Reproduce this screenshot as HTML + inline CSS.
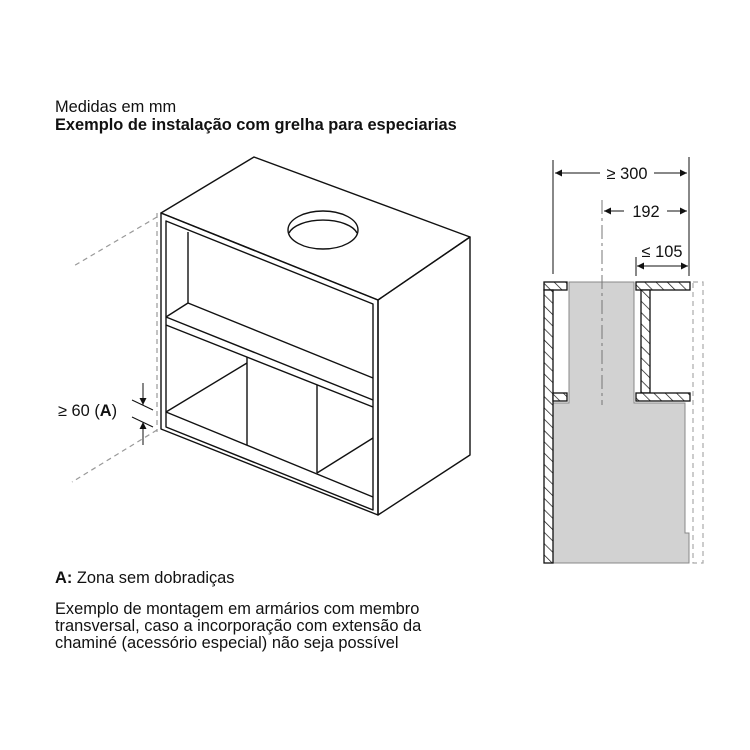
<!DOCTYPE html>
<html><head><meta charset="utf-8"><style>
html,body{margin:0;padding:0;background:#fff}
svg{display:block}
text{font-family:"Liberation Sans",Arial,sans-serif;fill:#111}
</style></head><body>
<svg width="750" height="750" viewBox="0 0 750 750" xmlns="http://www.w3.org/2000/svg">
<defs>
<pattern id="h" patternUnits="userSpaceOnUse" width="8" height="8" patternTransform="rotate(-45)">
<rect width="8" height="8" fill="#fff"/><line x1="0" y1="0" x2="0" y2="8" stroke="#111" stroke-width="1.4"/>
</pattern>
<marker id="a" viewBox="0 0 10 10" refX="10" refY="5" markerWidth="9" markerHeight="7" orient="auto-start-reverse" markerUnits="userSpaceOnUse"><path d="M0,0 L10,5 L0,10 z" fill="#111"/></marker>
</defs>
<text x="55" y="112" font-size="16.4">Medidas em mm</text>
<text x="55" y="130" font-size="16.4" font-weight="bold">Exemplo de instalação com grelha para especiarias</text>

<!-- left cabinet -->
<g fill="none" stroke="#111" stroke-width="1.4" stroke-linejoin="round">
<path d="M161,213 L254,157 L470,237 L378,300 Z" fill="#fff"/>
<path d="M378,300 L470,237 L470,455 L378,515 Z"/>
<path d="M161,213 L378,300 L378,515 L161,429 Z"/>
<path d="M166,221 L373,304 L373,510 L166,427 Z"/>
<line x1="188" y1="232" x2="188" y2="303"/>
<line x1="188" y1="303" x2="373" y2="378"/>
<line x1="188" y1="303" x2="166" y2="317"/>
<line x1="166" y1="317" x2="373" y2="400"/>
<line x1="166" y1="325" x2="373" y2="407"/>
<line x1="166" y1="412" x2="373" y2="497"/>
<line x1="166" y1="412" x2="247" y2="363"/>
<line x1="247" y1="357" x2="247" y2="445"/>
<line x1="317" y1="385" x2="317" y2="473"/>
<line x1="317" y1="473" x2="373" y2="438"/>
<ellipse cx="323" cy="230" rx="35" ry="19"/>
<path d="M289,233 A35,17 0 0 1 357,233"/>
</g>
<g stroke="#999" stroke-width="1.2" stroke-dasharray="5,4" fill="none">
<line x1="157" y1="213" x2="157" y2="432"/>
<line x1="157" y1="217" x2="72" y2="267"/>
<line x1="157" y1="430" x2="72" y2="482"/>
</g>
<g stroke="#111" stroke-width="1" fill="none">
<line x1="132" y1="400" x2="153" y2="410"/>
<line x1="132" y1="417" x2="153" y2="427"/>
<line x1="143" y1="383" x2="143" y2="405" marker-end="url(#a)"/>
<line x1="143" y1="445" x2="143" y2="422" marker-end="url(#a)"/>
</g>
<text x="58" y="416" font-size="16.4">≥ 60 (<tspan font-weight="bold">A</tspan>)</text>

<!-- right section -->
<path d="M569,282 L634,282 L634,403 L685,403 L685,533 L689,533 L689,563 L553,563 L553,403 L569,403 Z" fill="#d2d2d2" stroke="#888" stroke-width="1"/>
<g stroke="#111" stroke-width="1.3" fill="url(#h)">
<rect x="544" y="282" width="23" height="8"/>
<rect x="544" y="290" width="9" height="273"/>
<rect x="553" y="393" width="14" height="8"/>
<rect x="636" y="282" width="54" height="8"/>
<rect x="641" y="290" width="9" height="103"/>
<rect x="636" y="393" width="54" height="8"/>
</g>
<g stroke="#aaa" stroke-width="1.2" stroke-dasharray="5,4" fill="none">
<rect x="693" y="282" width="10" height="281"/>
</g>
<line x1="602" y1="200" x2="602" y2="405" stroke="#777" stroke-width="1" stroke-dasharray="14,4,3,4"/>
<g stroke="#111" stroke-width="1" fill="none">
<line x1="553" y1="160" x2="553" y2="274"/>
<line x1="689" y1="157" x2="689" y2="276"/>
<line x1="636" y1="257" x2="636" y2="276"/>
<line x1="600" y1="173" x2="555" y2="173" marker-end="url(#a)"/>
<line x1="654" y1="173" x2="687" y2="173" marker-end="url(#a)"/>
<line x1="624" y1="211" x2="604" y2="211" marker-end="url(#a)"/>
<line x1="667" y1="211" x2="687" y2="211" marker-end="url(#a)"/>
<line x1="637" y1="266" x2="688" y2="266" marker-start="url(#a)" marker-end="url(#a)"/>
</g>
<text x="627" y="179" font-size="16.4" text-anchor="middle">≥ 300</text>
<text x="646" y="217" font-size="16.4" text-anchor="middle">192</text>
<text x="662" y="257" font-size="16.4" text-anchor="middle">≤ 105</text>

<text x="55" y="583" font-size="16.4"><tspan font-weight="bold">A:</tspan> Zona sem dobradiças</text>
<text x="55" y="614" font-size="16.4">Exemplo de montagem em armários com membro</text>
<text x="55" y="631" font-size="16.4">transversal, caso a incorporação com extensão da</text>
<text x="55" y="648" font-size="16.4">chaminé (acessório especial) não seja possível</text>
</svg>
</body></html>
